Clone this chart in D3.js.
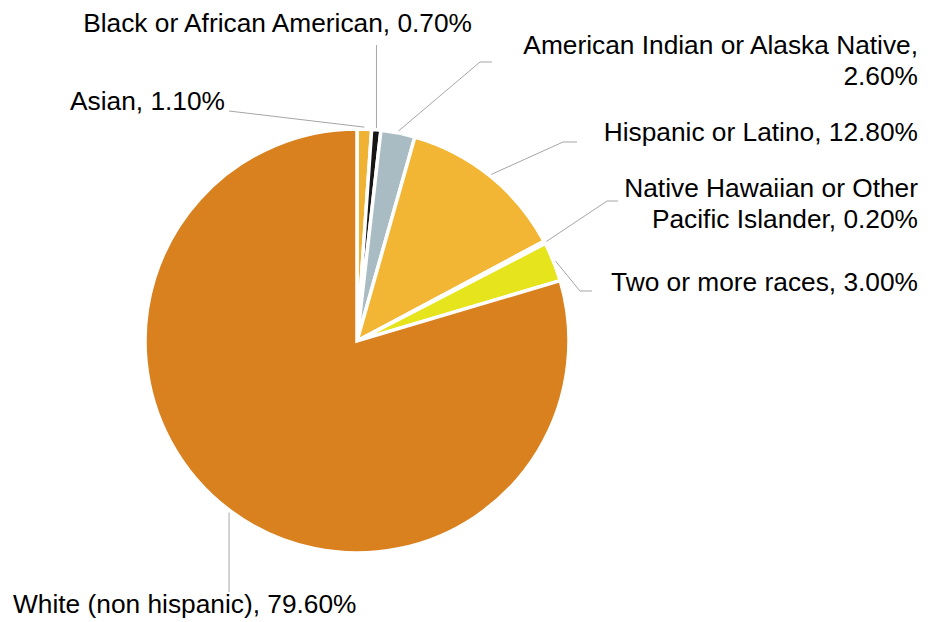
<!DOCTYPE html>
<html>
<head>
<meta charset="utf-8">
<script src="https://cdn.jsdelivr.net/npm/d3@7"></script>
<style>
  body { margin: 0; background: #fff; }
  svg { display: block; }
</style>
</head>
<body>
<svg id="chart"></svg>
<script>
// race / ethnicity shares, clockwise from 12 o'clock
var categories = ["Asian", "Black or African American", "American Indian or Alaska Native",
  "Hispanic or Latino", "Native Hawaiian or Other Pacific Islander", "Two or more races",
  "White (non hispanic)"];
var shares = [1.1, 0.7, 2.6, 12.8, 0.2, 3.0, 79.6];
var valueLabels = ["1.10%", "0.70%", "2.60%", "12.80%", "0.20%", "3.00%", "79.60%"];
var colors = ["#f0b232", "#161616", "#a9bbc3", "#f2b634", "#ffffff", "#e6e41c", "#d9801f"];

var width = 946, height = 622;
var cx = 357, cy = 341, radius = 212;
var fontSize = 26.3;

// label text lines + where leader lines bend / end (layout only)
var layout = [
  { lines: ["Asian, 1.10%"], x: 225, y: 110, anchor: "end", path: [[229, 111]] },
  { lines: ["Black or African American, 0.70%"], x: 472, y: 32, anchor: "end", path: [[null, 45]] },
  { lines: ["American Indian or Alaska Native,", "2.60%"], x: 918, y: 54, anchor: "end", path: [[480, 62], [492, 62]] },
  { lines: ["Hispanic or Latino, 12.80%"], x: 918, y: 141, anchor: "end", path: [[563, 142], [577, 142]] },
  { lines: ["Native Hawaiian or Other", "Pacific Islander, 0.20%"], x: 918, y: 197, anchor: "end", path: [[607, 201], [618, 201]] },
  { lines: ["Two or more races, 3.00%"], x: 918, y: 291, anchor: "end", path: [[580, 291], [592, 291]] },
  { lines: ["White (non hispanic), 79.60%"], x: 13, y: 613, anchor: "start", path: [[null, 592]] }
];

var svg = d3.select("#chart")
    .attr("width", width)
    .attr("height", height);

var pie = d3.pie().sort(null).value(function(d) { return d; });
var arcs = pie(shares);

var arc = d3.arc().innerRadius(0).outerRadius(radius);

var g = svg.append("g").attr("transform", "translate(" + cx + "," + cy + ")");

g.selectAll("path.slice")
  .data(arcs)
  .enter().append("path")
    .attr("class", "slice")
    .attr("d", arc)
    .attr("fill", function(d, i) { return colors[i]; })
    .attr("stroke", "#fff")
    .attr("stroke-width", 3.5)
    .attr("stroke-linejoin", "miter");

// leader lines from each slice's outer mid point
var line = d3.line();
arcs.forEach(function(a, i) {
  var mid = (a.startAngle + a.endAngle) / 2;
  var sx = cx + (radius + 2) * Math.sin(mid);
  var sy = cy - (radius + 2) * Math.cos(mid);
  var pts = [[sx, sy]];
  layout[i].path.forEach(function(p) {
    pts.push([p[0] === null ? sx : p[0], p[1]]);
  });
  svg.append("path")
    .attr("d", line(pts))
    .attr("fill", "none")
    .attr("stroke", "#a6a6a6")
    .attr("stroke-width", 1);
});

// labels
layout.forEach(function(l, i) {
  var t = svg.append("text")
    .attr("x", l.x)
    .attr("y", l.y)
    .attr("text-anchor", l.anchor)
    .attr("font-family", "Liberation Sans, Arial, sans-serif")
    .attr("font-size", fontSize + "px")
    .attr("fill", "#000");
  l.lines.forEach(function(s, j) {
    t.append("tspan")
      .attr("x", l.x)
      .attr("dy", j === 0 ? 0 : 31)
      .text(s);
  });
});
</script>
</body>
</html>
